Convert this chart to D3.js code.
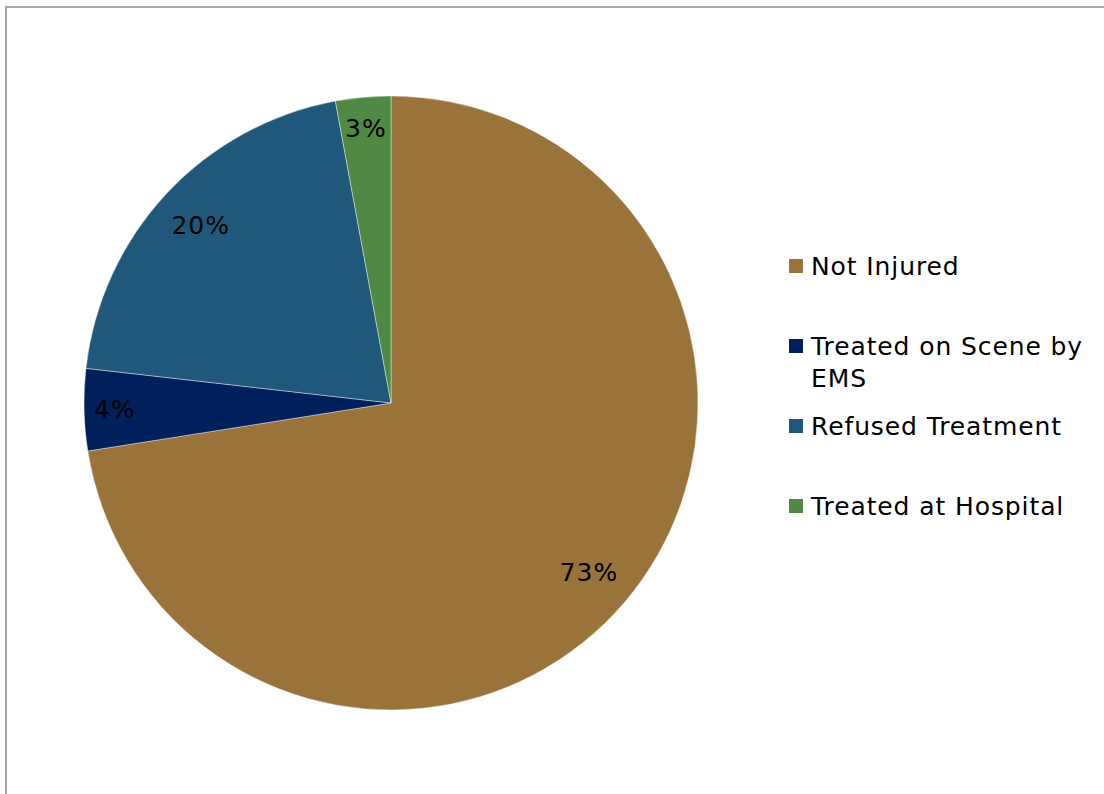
<!DOCTYPE html>
<html><head><meta charset="utf-8">
<script src="https://cdn.jsdelivr.net/npm/d3@7"></script>
<style>html,body{margin:0;padding:0;background:#fff;}svg{display:block;}</style>
</head><body>
<svg id="chart" width="1104" height="794"></svg>
<script>
const categories = ["Not Injured", "Treated on Scene by EMS", "Refused Treatment", "Treated at Hospital"];
const values = [72.5, 4.3, 20.3, 2.9];
const colors = ["#99733A", "#00205C", "#1F587A", "#4F8944"];
const legendLines = [["Not Injured"], ["Treated on Scene by", "EMS"], ["Refused Treatment"], ["Treated at Hospital"]];

const svg = d3.select("#chart");
const font = "'DejaVu Sans', Verdana, sans-serif";

// frame
svg.append("path").attr("d", "M6,794 V7 H1104").attr("fill", "none")
  .attr("stroke", "#a6a6a6").attr("stroke-width", 2);

const cx = 391, cy = 403, r = 307;
const total = d3.sum(values);
const pie = d3.pie().sort(null).value(d => d).startAngle(0).endAngle(2 * Math.PI);
const arcs = pie(values);
const arc = d3.arc().innerRadius(0).outerRadius(r);
const g = svg.append("g").attr("transform", `translate(${cx},${cy})`);
g.selectAll("path.slice").data(arcs).join("path").attr("class", "slice")
  .attr("d", arc).attr("fill", (d, i) => colors[i])
  .attr("stroke", "rgba(255,255,255,0.5)").attr("stroke-width", 0.8);

g.selectAll("text.lbl").data(arcs).join("text").attr("class", "lbl")
  .attr("transform", d => {
    const f = (d.value / total < 0.1) ? 0.9 : 0.848;
    const a = (d.startAngle + d.endAngle) / 2;
    return `translate(${Math.sin(a) * r * f},${-Math.cos(a) * r * f})`;
  })
  .attr("text-anchor", "middle").attr("dy", "0.36em")
  .attr("font-family", font).attr("font-size", 25).attr("letter-spacing", 1).attr("fill", "#000")
  .text(d => Math.round(d.value / total * 100) + "%");

// legend
const legendY = [266, 346, 426, 506];
const lg = svg.append("g");
categories.forEach((c, i) => {
  lg.append("rect").attr("x", 789).attr("y", legendY[i] - 7).attr("width", 14).attr("height", 14)
    .attr("fill", colors[i]);
  const t = lg.append("text").attr("x", 811).attr("y", legendY[i])
    .attr("font-family", font).attr("font-size", 25).attr("letter-spacing", 0.9).attr("fill", "#000");
  legendLines[i].forEach((ln, j) => {
    t.append("tspan").attr("x", 811).attr("dy", j === 0 ? "0.36em" : 32).text(ln);
  });
});
</script>
</body></html>
